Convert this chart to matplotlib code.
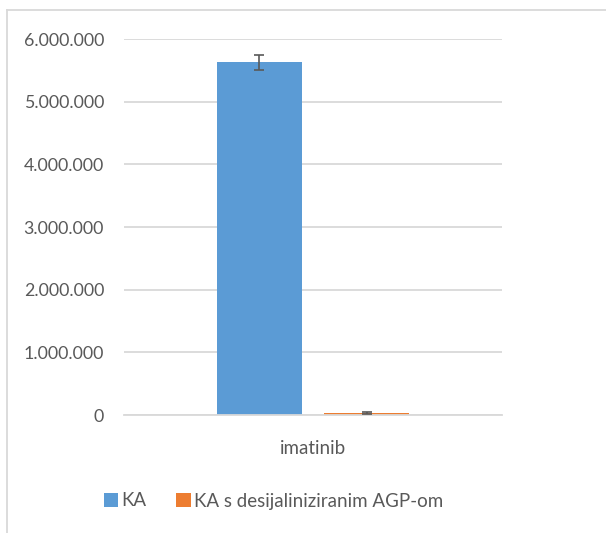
import matplotlib
matplotlib.use('Agg')
import matplotlib.pyplot as plt
import numpy as np
from matplotlib.ticker import FuncFormatter, MultipleLocator
from matplotlib.lines import Line2D

plt.rcParams['font.family'] = ['Lato', 'DejaVu Sans']

categories = ['imatinib']
series_names = ['KA', 'KA s desijaliniziranim AGP-om']
series_values = [[5630000], [35000]]
series_errors = [[120000], [12000]]
series_colors = ['#5B9BD5', '#ED7D31']

TEXT = '#595959'
GRID = '#D9D9D9'

W, H = 606, 533
fig = plt.figure(figsize=(W / 100, H / 100), dpi=100)

# chart border (cropped on right/bottom like the original)
fig.add_artist(Line2D([6.5 / W, 6.5 / W], [0, 1 - 9.5 / H], color=GRID, lw=1.3))
fig.add_artist(Line2D([6.5 / W, 1], [1 - 9.5 / H, 1 - 9.5 / H], color=GRID, lw=1.3))

ax = fig.add_axes([124 / W, 1 - 415 / H, 378 / W, 376 / H])

x = np.arange(len(categories))
width = 0.2249
offsets = [-0.1423, 0.1423]
for vals, errs, name, col, off in zip(series_values, series_errors, series_names,
                                      series_colors, offsets):
    ax.bar(x + off, vals, width, color=col, label=name, zorder=2)
    ax.errorbar(x + off, vals, yerr=errs, fmt='none', ecolor=TEXT,
                elinewidth=1.2, capsize=3.6, capthick=1.2, zorder=3)

ax.set_xlim(-0.5, 0.5)
ax.set_ylim(0, 6000000)
ax.yaxis.set_major_locator(MultipleLocator(1000000))
ax.yaxis.set_major_formatter(FuncFormatter(lambda v, p: f'{int(v):,}'.replace(',', '.')))
ax.grid(axis='y', color=GRID, lw=1.3, zorder=0)
ax.set_axisbelow(True)
for s in ['top', 'right', 'left']:
    ax.spines[s].set_visible(False)
ax.spines['bottom'].set_color(GRID)
ax.spines['bottom'].set_linewidth(1.3)
ax.set_xticks(x)
ax.set_xticklabels(categories)
ax.tick_params(axis='both', length=0, colors=TEXT, labelsize=13.5)
ax.tick_params(axis='y', pad=14.4, labelsize=12.8)
ax.tick_params(axis='x', pad=18)

fig.legend(loc='center', bbox_to_anchor=(273.5 / W, 1 - 501 / H), ncol=2,
           frameon=False, fontsize=13.5, labelcolor=TEXT,
           handlelength=0.75, handleheight=0.75, handletextpad=0.2,
           columnspacing=1.6)

fig.savefig('out.png', dpi=100)
